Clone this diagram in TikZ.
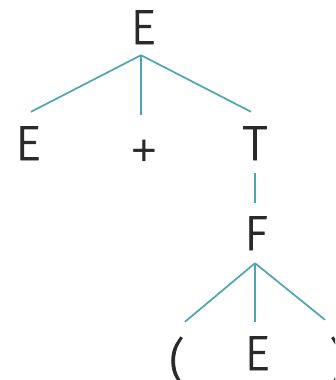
\documentclass[tikz,border=0pt]{standalone}
\usepackage{fontspec}
\newfontfamily\symfont{Fira Sans Light}[FakeBold=1.6]
\newfontfamily\plusfont{Liberation Sans}
\definecolor{txt}{HTML}{2A2A2A}
\definecolor{edgec}{HTML}{4EA4B0}
\begin{document}
\begin{tikzpicture}[x=1pt,y=-1pt,
  sym/.style={anchor=base, inner sep=0pt, text height=34pt, text depth=0pt,
    font=\symfont\fontsize{49}{49}\selectfont, text=txt},
  branch/.style={draw=edgec, line width=1.7pt}]
\useasboundingbox (0,0) rectangle (335,380);
\clip (0,0) rectangle (335,380);
\node[sym] (e0) at (143,44) {E};
\node[sym] (e1) at (28,160) {E};
\node[sym, font=\plusfont\fontsize{44}{44}\selectfont] (plus) at (144,165) {+};
\node[sym] (t) at (255,160) {T};
\node[sym] (f) at (256,250) {F};
\node[sym] (lp) at (177,378) {(};
\node[sym] (e2) at (257,370) {E};
\node[sym] (rp) at (337,378) {)};
\coordinate (top) at ([yshift=-11pt,xshift=-2pt]e0.south);
\draw[branch] (top) -- ([yshift=16pt,xshift=-3pt]plus.north);
\draw[branch] (top) -- ([yshift=14pt,xshift=3pt]e1.north);
\draw[branch] (top) -- ([yshift=14pt,xshift=-4pt]t.north);
\draw[branch] ([yshift=-13pt]t.south) -- ([yshift=13pt,xshift=-1pt]f.north);
\coordinate (fa) at ([yshift=-13pt,xshift=-1pt]f.south);
\draw[branch] (fa) -- ([yshift=22pt,xshift=8pt]lp.north);
\draw[branch] (fa) -- ([yshift=14pt,xshift=-2pt]e2.north);
\draw[branch] (fa) -- ([yshift=24pt,xshift=-12pt]rp.north);
\end{tikzpicture}
\end{document}
